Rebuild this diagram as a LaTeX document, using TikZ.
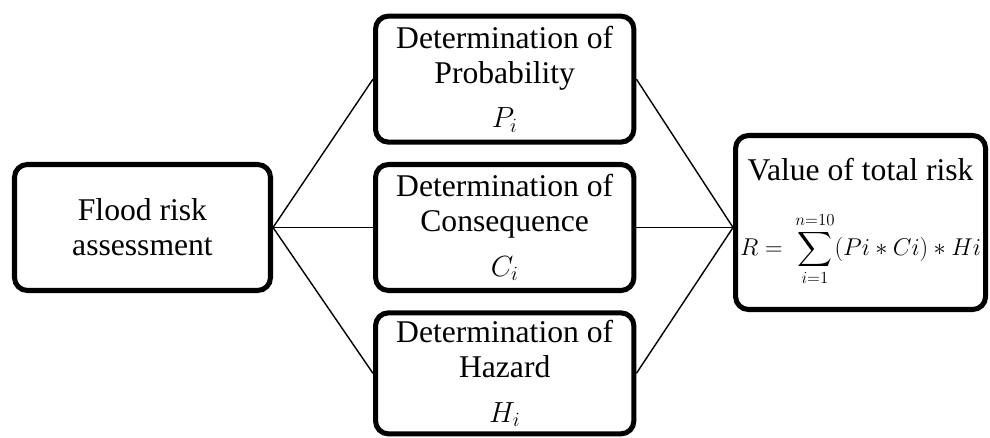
\documentclass[tikz,border=0pt]{standalone}
\usepackage{amsmath}
\usepackage{fontspec}
\setmainfont{Liberation Serif}
\usepackage{tikz}
\usetikzlibrary{positioning}
\tikzset{
  blk/.style={draw=black,line width=4.3pt,rounded corners=11pt,fill=white,align=center,
    minimum width=7.75cm,minimum height=3.78cm,inner sep=2pt,
    font=\fontsize{27}{30}\selectfont},
  lnk/.style={line width=1.2pt},
}
\newcommand{\fsum}{{\fontsize{20}{24}\selectfont
  $R=\ \displaystyle\sum_{i=1}^{n=10}(Pi\ast Ci)\ast Hi$}}

\begin{document}
\begin{tikzpicture}[node distance=0.52cm and 3.0cm]
\useasboundingbox (-4.275,-6.315) rectangle (25.425,6.825);
\node[blk,minimum width=7.68cm] (Flood) {Flood risk\\assessment};
\node[blk,right=of Flood] (Cons) {Determination of\\Consequence\\[8pt]$C_i$};
\node[blk,above=of Cons] (Prob) {Determination of\\Probability\\[8pt]$P_i$};
\node[blk,below=of Cons,minimum height=3.63cm] (Haz) {Determination of\\Hazard\\[8pt]$H_i$};
\node[blk,right=2.9cm of Cons,yshift=0.15cm,minimum width=7.5cm,minimum height=5.22cm] (Risk)
  {Value of total risk\\[25pt]\fsum};
\draw[lnk] (Flood.east) -- (Prob.west);
\draw[lnk] (Flood.east) -- (Cons.west);
\draw[lnk] (Flood.east) -- (Haz.west);
\draw[lnk] (Prob.east) -- (Risk.west |- Cons.east);
\draw[lnk] (Cons.east) -- (Risk.west |- Cons.east);
\draw[lnk] (Haz.east) -- (Risk.west |- Cons.east);
\end{tikzpicture}
\end{document}
